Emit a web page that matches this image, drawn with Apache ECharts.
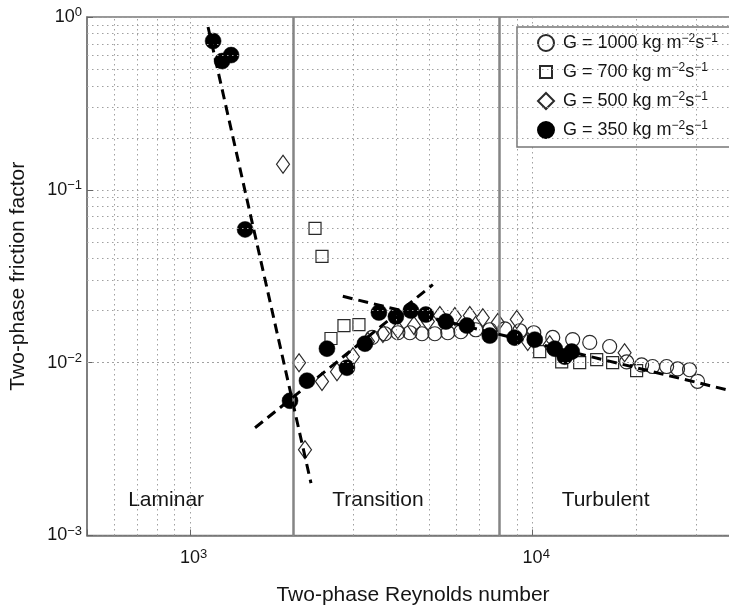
<!DOCTYPE html>
<html>
<head>
<meta charset="utf-8">
<script src="https://cdn.jsdelivr.net/npm/echarts@6/dist/echarts.min.js"></script>
<style>
  html, body { margin: 0; padding: 0; background: #fff; }
  #chart { width: 729px; height: 606px; }
</style>
</head>
<body>
<div id="chart"></div>
<script>
// Two-phase friction factor vs two-phase Reynolds number, four mass fluxes G (kg m^-2 s^-1)
const massFluxes = [1000, 700, 500, 350];

const g1000Re = [3400, 3700, 4040, 4380, 4750, 5180, 5650, 6170, 6820, 7490, 8290, 9170,
                 10070, 11440, 13080, 14670, 16770, 18800, 20790, 22380, 24590, 26470, 28690, 30270];
const g1000F  = [0.0140, 0.0147, 0.0149, 0.0149, 0.0147, 0.0147, 0.0149, 0.0151, 0.0155, 0.0155, 0.0157, 0.0153,
                 0.0149, 0.0140, 0.0136, 0.0131, 0.0124, 0.0101, 0.0097, 0.0095, 0.0095, 0.0092, 0.0091, 0.0078];

const g700Re = [2315, 2426, 2577, 2812, 3110, 10480, 12150, 13710, 15370, 17110, 20100];
const g700F  = [0.0598, 0.0412, 0.0138, 0.0164, 0.0166, 0.0116, 0.0101, 0.0100, 0.0104, 0.0100, 0.0090];

const g500Re = [1867, 2079, 2164, 2426, 2683, 2987, 3303, 3653, 4041, 4499, 4943, 5357, 5925, 6551,
                7149, 7906, 8982, 9670, 11210, 18540];
const g500F  = [0.1405, 0.0100, 0.00313, 0.00777, 0.00887, 0.01083, 0.01324, 0.01473, 0.01553, 0.0164,
                0.01729, 0.01873, 0.01848, 0.01873, 0.01822, 0.01706, 0.01776, 0.01324, 0.01271, 0.01143];

const g350Re = [1167, 1240, 1317, 1447, 1957, 2193, 2508, 2869, 3237, 3556, 3987, 4409, 4875, 5577,
                6422, 7491, 8859, 10135, 11590, 12400, 12995];
const g350F  = [0.726, 0.556, 0.602, 0.0590, 0.00602, 0.00787, 0.01205, 0.00935, 0.01288, 0.01950,
                0.01848, 0.02001, 0.01897, 0.01729, 0.01639, 0.01434, 0.01396, 0.01359, 0.01205, 0.01083, 0.01159];

// Dashed correlation lines (end points)
const laminarFitRe = [1128, 2253];
const laminarFitF  = [0.875, 0.00201];
const transitionFitRe = [1547, 5111];
const transitionFitF  = [0.0042, 0.0283];
const turbulentFitRe = [2790, 40000];
const turbulentFitF  = [0.0242, 0.0067];

// Regime boundaries and region names
const regimeBounds = [2000, 8000];
const regionNames = ['Laminar', 'Transition', 'Turbulent'];
const regionRe = [851, 3532, 16320];
const regionF = [0.0016, 0.0016, 0.0016];

// Axis ranges and minor grid positions
const reRange = [500, 40000];
const fRange = [0.001, 1];
const reMinorGrid = [600, 700, 800, 900, 2000, 3000, 4000, 5000, 6000, 7000, 8000, 9000, 20000, 30000];
const fMinorGrid = [0.002, 0.003, 0.004, 0.005, 0.006, 0.007, 0.008, 0.009,
                    0.02, 0.03, 0.04, 0.05, 0.06, 0.07, 0.08, 0.09,
                    0.2, 0.3, 0.4, 0.5, 0.6, 0.7, 0.8, 0.9];

const FONT = '"Liberation Sans", Arial, Helvetica, sans-serif';
const INK = '#151515';
const zip = (a, b) => a.map((v, i) => [v, b[i]]);
const seriesName = g => 'G = ' + g;

function powerOf10(v) {
  const e = Math.log10(v);
  const r = Math.round(e);
  return Math.abs(e - r) < 1e-6 ? r : null;
}
function expText(e) { return e < 0 ? '\u2212' + (-e) : String(e); }

const dotted = { color: '#a0a0a0', width: 1, type: [1.5, 3.5] };

// Legend glyphs: the square is drawn smaller than its 16x16 icon box
const legendIcons = ['circle', 'path://M0,0M2,2L14,2L14,14L2,14ZM16,16', 'diamond', 'circle'];

const chart = echarts.init(document.getElementById('chart'), null, { renderer: 'canvas' });

const hollow = 'rgba(255,255,255,0)';
const option = {
  animation: false,
  backgroundColor: '#fff',
  textStyle: { fontFamily: FONT },
  grid: {
    left: 87, top: 17, width: 652, height: 518.5,
    outerBoundsMode: 'none', containLabel: false,
    show: true, borderColor: '#777', borderWidth: 1.5, backgroundColor: '#fff'
  },
  xAxis: {
    type: 'log', logBase: 10, min: reRange[0], max: reRange[1],
    name: 'Two-phase Reynolds number', nameLocation: 'middle', nameGap: 49,
    nameTextStyle: { fontSize: 21, color: INK, fontFamily: FONT },
    axisLine: { show: true, lineStyle: { color: '#777', width: 1.5 } },
    axisTick: { show: true, inside: true, length: 6, lineStyle: { color: '#666' } },
    splitLine: { show: true, lineStyle: dotted },
    axisLabel: {
      margin: 12, color: INK, fontFamily: FONT,
      formatter: v => { const e = powerOf10(v); return e === null ? '' : '{b|10}{e|' + expText(e) + '}'; },
      rich: {
        b: { fontSize: 18, lineHeight: 22, color: INK, fontFamily: FONT, padding: [0, 0, 0, 7] },
        e: { fontSize: 13, lineHeight: 8, verticalAlign: 'top', color: INK, fontFamily: FONT }
      }
    }
  },
  yAxis: {
    type: 'log', logBase: 10, min: fRange[0], max: fRange[1],
    name: 'Two-phase friction factor', nameLocation: 'middle', nameGap: 58,
    nameTextStyle: { fontSize: 21, color: INK, fontFamily: FONT },
    axisLine: { show: true, lineStyle: { color: '#777', width: 1.5 } },
    axisTick: { show: true, inside: true, length: 6, lineStyle: { color: '#666' } },
    splitLine: { show: true, lineStyle: dotted },
    axisLabel: {
      margin: 5, color: INK, fontFamily: FONT,
      formatter: v => { const e = powerOf10(v); return e === null ? '' : '{b|10}{e|' + expText(e) + '}'; },
      rich: {
        b: { fontSize: 18, lineHeight: 22, color: INK, fontFamily: FONT },
        e: { fontSize: 13, lineHeight: 8, verticalAlign: 'top', color: INK, fontFamily: FONT }
      }
    }
  },
  legend: {
    data: massFluxes.map((g, i) => ({ name: seriesName(g), icon: legendIcons[i] })),
    orient: 'vertical', left: 517, top: 27,
    padding: [6, 40, 7, 20], itemWidth: 16, itemHeight: 16, itemGap: 9,
    backgroundColor: '#fff', borderColor: '#777', borderWidth: 1.5, borderRadius: 0,
    textStyle: {
      fontSize: 18, color: INK, fontFamily: FONT, lineHeight: 20,
      rich: {
        gap: { width: 4 },
        s: { fontSize: 12, lineHeight: 4, verticalAlign: 'top', color: INK, fontFamily: FONT }
      }
    },
    formatter: name => '{gap|}' + name + ' kg m{s|\u22122}s{s|\u22121}'
  },
  series: [
    {
      name: 'regions', type: 'scatter', z: 1, silent: true,
      symbolSize: 1, itemStyle: { color: 'rgba(0,0,0,0)', opacity: 1 },
      data: zip(regionRe, regionF),
      label: {
        show: true, position: 'inside', fontSize: 21, color: INK, fontFamily: FONT, opacity: 1,
        formatter: p => regionNames[p.dataIndex]
      },
      markLine: {
        silent: true, symbol: 'none', label: { show: false },
        lineStyle: dotted,
        emphasis: { disabled: true },
        data: reMinorGrid.map(v => ({ xAxis: v })).concat(fMinorGrid.map(v => ({ yAxis: v })))
      }
    },
    {
      name: seriesName(1000), type: 'scatter', z: 3,
      symbol: 'circle', symbolSize: 14,
      itemStyle: { color: hollow, borderColor: '#2a2a2a', borderWidth: 1.2, opacity: 1 },
      data: zip(g1000Re, g1000F)
    },
    {
      name: seriesName(700), type: 'scatter', z: 3,
      symbol: 'rect', symbolSize: 12,
      itemStyle: { color: hollow, borderColor: '#2a2a2a', borderWidth: 1.2, opacity: 1 },
      data: zip(g700Re, g700F)
    },
    {
      name: seriesName(500), type: 'scatter', z: 3,
      symbol: 'diamond', symbolSize: [13, 18],
      itemStyle: { color: hollow, borderColor: '#2a2a2a', borderWidth: 1.2, opacity: 1 },
      data: zip(g500Re, g500F)
    },
    {
      name: seriesName(350), type: 'scatter', z: 4,
      symbol: 'circle', symbolSize: 16,
      itemStyle: { color: '#000', borderColor: '#000', borderWidth: 0.5, opacity: 1 },
      data: zip(g350Re, g350F)
    },
    {
      name: 'laminarFit', type: 'line', z: 5, silent: true, showSymbol: false, symbol: 'none',
      lineStyle: { color: '#000', width: 3, type: [10, 6] },
      data: zip(laminarFitRe, laminarFitF),
      markLine: {
        silent: true, symbol: 'none', label: { show: false },
        lineStyle: { color: '#858585', width: 2.5, type: 'solid' },
        emphasis: { disabled: true },
        data: regimeBounds.map(v => ({ xAxis: v }))
      }
    },
    {
      name: 'transitionFit', type: 'line', z: 5, silent: true, showSymbol: false, symbol: 'none',
      lineStyle: { color: '#000', width: 3, type: [10, 6] },
      data: zip(transitionFitRe, transitionFitF)
    },
    {
      name: 'turbulentFit', type: 'line', z: 5, silent: true, showSymbol: false, symbol: 'none',
      lineStyle: { color: '#000', width: 3, type: [10, 6] },
      data: zip(turbulentFitRe, turbulentFitF)
    }
  ]
};
chart.setOption(option);
</script>
</body>
</html>
